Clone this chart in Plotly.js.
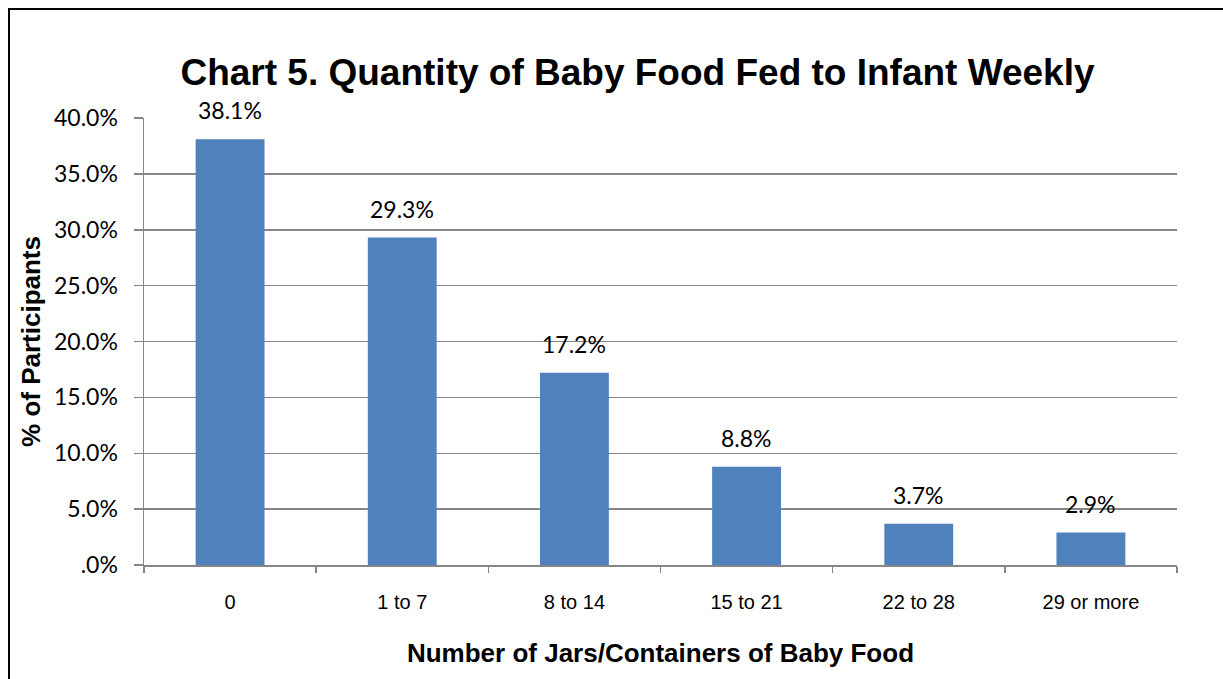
<!DOCTYPE html>
<html>
<head>
<meta charset="utf-8">
<script src="https://cdn.plot.ly/plotly-3.0.1.min.js"></script>
<style>
  html, body { margin: 0; padding: 0; background: #fff; overflow: hidden; }
  #chart { position: absolute; left: 0; top: 0; width: 1223px; height: 679px; }
  #frame { position: absolute; left: 8px; top: 8px; width: 1240px; height: 700px;
           border: 2px solid #000; pointer-events: none; box-sizing: border-box; }
</style>
</head>
<body>
<div id="chart"></div>
<div id="frame"></div>
<script>
// ---- data ----
const categories = ['0', '1 to 7', '8 to 14', '15 to 21', '22 to 28', '29 or more'];
const percentValues = [38.1, 29.3, 17.2, 8.8, 3.7, 2.9];
const yTickValues = [0, 5, 10, 15, 20, 25, 30, 35, 40];
const yTickLabels = ['.0%', '5.0%', '10.0%', '15.0%', '20.0%', '25.0%', '30.0%', '35.0%', '40.0%'];
const chartTitle = 'Chart 5. Quantity of Baby Food Fed to Infant Weekly';
const xTitle = 'Number of Jars/Containers of Baby Food';
const yTitle = '% of Participants';

const gray = '#868686';
const barColor = '#4F81BD';

const trace = {
  type: 'bar',
  x: categories,
  y: percentValues,
  marker: { color: barColor },
  hoverinfo: 'x+y',
  showlegend: false
};

const labelAnnotations = categories.map((c, i) => ({
  x: c,
  y: percentValues[i],
  xref: 'x',
  yref: 'y',
  text: percentValues[i].toFixed(1) + '%',
  showarrow: false,
  xanchor: 'center',
  yanchor: 'middle',
  yshift: 29,
  font: { family: 'Lato, "Open Sans", sans-serif', size: 23, color: '#000' }
}));

const layout = {
  width: 1223,
  height: 679,
  paper_bgcolor: '#ffffff',
  plot_bgcolor: '#ffffff',
  margin: { l: 144, r: 46, t: 118, b: 114 },
  bargap: 0.6,
  title: {
    text: chartTitle,
    font: { family: '"Liberation Sans", Arial, sans-serif', size: 37, color: '#000', weight: 'bold' },
    xref: 'container',
    yref: 'container',
    x: 637.5 / 1223,
    xanchor: 'center',
    y: 1 - 72 / 679,
    yanchor: 'middle'
  },
  xaxis: {
    type: 'category',
    showline: true,
    linecolor: gray,
    linewidth: 1.5,
    ticks: 'outside',
    tickson: 'boundaries',
    ticklen: 6,
    tickwidth: 1.5,
    tickcolor: gray,
    showgrid: false,
    ticklabelstandoff: 18,
    tickfont: { family: '"Liberation Sans", Arial, sans-serif', size: 20, color: '#000' },
    title: {
      text: xTitle,
      font: { family: '"Liberation Sans", Arial, sans-serif', size: 26, color: '#000', weight: 'bold' },
      standoff: 32
    },
    fixedrange: true
  },
  yaxis: {
    range: [0, 40],
    tickmode: 'array',
    tickvals: yTickValues,
    ticktext: yTickLabels,
    showline: true,
    linecolor: gray,
    linewidth: 1.5,
    ticks: 'outside',
    ticklen: 9,
    tickwidth: 1.5,
    tickcolor: gray,
    showgrid: true,
    gridcolor: gray,
    gridwidth: 1.5,
    zeroline: false,
    ticklabelstandoff: 11,
    tickfont: { family: 'Lato, "Open Sans", sans-serif', size: 23, color: '#000' },
    title: {
      text: yTitle,
      font: { family: '"Liberation Sans", Arial, sans-serif', size: 26, color: '#000', weight: 'bold' },
      standoff: 6
    },
    fixedrange: true
  },
  annotations: labelAnnotations
};

Plotly.newPlot('chart', [trace], layout, { displayModeBar: false, staticPlot: true });
</script>
</body>
</html>
